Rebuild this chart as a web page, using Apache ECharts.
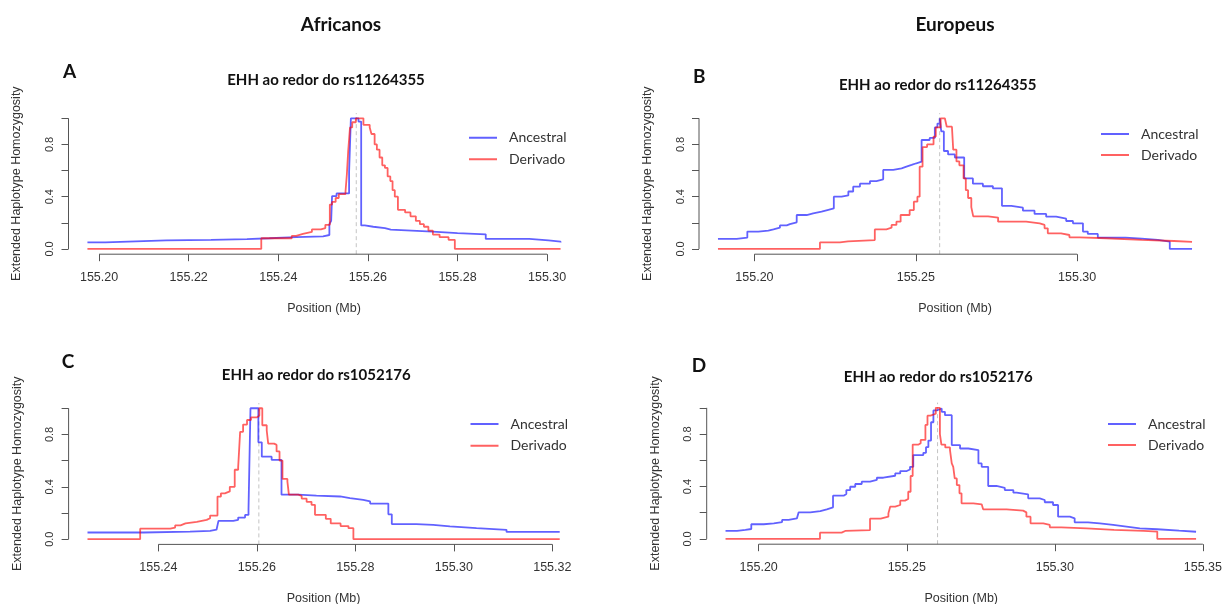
<!DOCTYPE html>
<html>
<head>
<meta charset="utf-8">
<script src="https://cdn.jsdelivr.net/npm/echarts@6/dist/echarts.min.js"></script>
<style>
  html, body { margin: 0; padding: 0; background: #fff; }
  #chart { width: 1225px; height: 604px; }
</style>
</head>
<body>
<div id="chart"></div>
<script>
// EHH decay around two core SNPs (positions in Mb), step functions [position, EHH]

// core SNP positions
const coreRs11264355 = 155.2574;
const coreRs1052176 = 155.2604;

// A: Africanos, rs11264355
const ancestralA = [
  [155.1974, 0.051], [155.2014, 0.066], [155.2150, 0.070], [155.2250, 0.076], [155.2330, 0.082],
  [155.2380, 0.090], [155.2440, 0.097], [155.2500, 0.107], [155.2514, 0.19], [155.2518, 0.215],
  [155.2520, 0.405], [155.2530, 0.425], [155.2558, 0.59], [155.2562, 1.0], [155.2579, 0.975],
  [155.2585, 0.18], [155.2593, 0.17], [155.2612, 0.16], [155.2638, 0.148], [155.2651, 0.133],
  [155.2744, 0.122], [155.2800, 0.112], [155.2863, 0.077], [155.2960, 0.066], [155.3003, 0.056],
  [155.3030, 0.05]
];
const derivadoA = [
  [155.1974, 0.0], [155.2362, 0.082], [155.2430, 0.10], [155.2440, 0.115], [155.2455, 0.13],
  [155.2475, 0.15], [155.2495, 0.16], [155.2505, 0.185], [155.2515, 0.34], [155.2520, 0.36],
  [155.2528, 0.39], [155.2535, 0.42], [155.2550, 0.44], [155.2553, 0.57], [155.2556, 0.75],
  [155.2560, 0.93], [155.2565, 0.97], [155.2573, 1.0], [155.2590, 0.95], [155.2604, 0.93],
  [155.2608, 0.88], [155.2615, 0.80], [155.2620, 0.76], [155.2626, 0.70], [155.2632, 0.64],
  [155.2638, 0.62], [155.2644, 0.555], [155.2650, 0.52], [155.2655, 0.45], [155.2660, 0.40],
  [155.2667, 0.30], [155.2683, 0.28], [155.2695, 0.25], [155.2707, 0.215], [155.2716, 0.19],
  [155.2725, 0.17], [155.2735, 0.14], [155.2745, 0.11], [155.2760, 0.09], [155.2780, 0.07],
  [155.2794, 0.0], [155.3030, 0.0]
];

// B: Europeus, rs11264355
const ancestralB = [
  [155.1887, 0.077], [155.1945, 0.087], [155.1978, 0.133], [155.2012, 0.14], [155.2043, 0.15],
  [155.2059, 0.163], [155.2079, 0.18], [155.2100, 0.19], [155.2110, 0.204], [155.2131, 0.26],
  [155.2162, 0.273], [155.2182, 0.286], [155.2208, 0.30], [155.2229, 0.31], [155.2246, 0.40],
  [155.2270, 0.41], [155.2291, 0.44], [155.2306, 0.477], [155.2327, 0.50], [155.2358, 0.52],
  [155.2378, 0.533], [155.2399, 0.605], [155.2430, 0.617], [155.2456, 0.63], [155.2471, 0.643],
  [155.2487, 0.656], [155.2502, 0.668], [155.2518, 0.834], [155.2543, 0.85], [155.2559, 0.93],
  [155.2567, 0.96], [155.2574, 1.0], [155.2579, 0.90], [155.2587, 0.75], [155.2600, 0.724],
  [155.2621, 0.70], [155.2650, 0.54], [155.2677, 0.50], [155.2708, 0.48], [155.2739, 0.464],
  [155.2767, 0.33], [155.2796, 0.316], [155.2832, 0.293], [155.2868, 0.268], [155.2904, 0.247],
  [155.2935, 0.232], [155.2966, 0.214], [155.2987, 0.196], [155.3018, 0.133], [155.3033, 0.115],
  [155.3064, 0.087], [155.3150, 0.079], [155.3200, 0.069], [155.3250, 0.056], [155.3287, 0.0],
  [155.3356, 0.0]
];
const derivadoB = [
  [155.1887, 0.0], [155.2203, 0.05], [155.2265, 0.058], [155.2290, 0.068], [155.2373, 0.15],
  [155.2409, 0.163], [155.2425, 0.184], [155.2440, 0.209], [155.2453, 0.26], [155.2481, 0.298],
  [155.2494, 0.362], [155.2505, 0.40], [155.2512, 0.63], [155.2521, 0.78], [155.2535, 0.80],
  [155.2555, 0.86], [155.2562, 0.93], [155.2577, 1.0], [155.2590, 0.99], [155.2596, 0.936],
  [155.2612, 0.93], [155.2616, 0.76], [155.2626, 0.67], [155.2635, 0.64], [155.2648, 0.54],
  [155.2655, 0.45], [155.2662, 0.39], [155.2672, 0.32], [155.2678, 0.25], [155.2724, 0.24],
  [155.2755, 0.209], [155.2842, 0.196], [155.2884, 0.184], [155.2899, 0.158], [155.2909, 0.12],
  [155.2950, 0.107], [155.2976, 0.089], [155.3007, 0.082], [155.3090, 0.069], [155.3200, 0.061],
  [155.3300, 0.055], [155.3356, 0.05]
];

// C: Africanos, rs1052176
const ancestralC = [
  [155.2256, 0.051], [155.2370, 0.058], [155.2464, 0.064], [155.2505, 0.072], [155.2518, 0.08],
  [155.2522, 0.14], [155.2552, 0.148], [155.2562, 0.165], [155.2576, 0.185], [155.2583, 0.23],
  [155.2587, 1.0], [155.2603, 0.74], [155.2610, 0.63], [155.2630, 0.605], [155.2650, 0.34],
  [155.2684, 0.333], [155.2721, 0.326], [155.2769, 0.313], [155.2789, 0.30], [155.2816, 0.288],
  [155.2830, 0.272], [155.2867, 0.19], [155.2874, 0.115], [155.2924, 0.109], [155.2958, 0.097],
  [155.2992, 0.084], [155.3046, 0.071], [155.3107, 0.055], [155.3215, 0.05]
];
const derivadoC = [
  [155.2256, 0.0], [155.2363, 0.08], [155.2424, 0.089], [155.2434, 0.105], [155.2445, 0.12],
  [155.2455, 0.132], [155.2478, 0.147], [155.2498, 0.16], [155.2505, 0.18], [155.2520, 0.325],
  [155.2527, 0.35], [155.2535, 0.365], [155.2545, 0.40], [155.2555, 0.53], [155.2562, 0.55],
  [155.2566, 0.82], [155.2572, 0.875], [155.2580, 0.91], [155.2588, 0.93], [155.2600, 0.945],
  [155.2605, 1.0], [155.2611, 0.87], [155.2620, 0.83], [155.2623, 0.73], [155.2635, 0.72],
  [155.2640, 0.67], [155.2646, 0.60], [155.2652, 0.46], [155.2662, 0.44], [155.2665, 0.34],
  [155.2684, 0.33], [155.2691, 0.31], [155.2701, 0.285], [155.2711, 0.262], [155.2718, 0.186],
  [155.2740, 0.155], [155.2750, 0.12], [155.2770, 0.10], [155.2786, 0.084], [155.2796, 0.0],
  [155.3215, 0.0]
];

// D: Europeus, rs1052176
const ancestralD = [
  [155.1888, 0.061], [155.1927, 0.069], [155.1955, 0.076], [155.1975, 0.112], [155.2017, 0.119],
  [155.2051, 0.129], [155.2079, 0.145], [155.2101, 0.157], [155.2129, 0.17], [155.2135, 0.203],
  [155.2174, 0.213], [155.2208, 0.226], [155.2230, 0.241], [155.2251, 0.33], [155.2287, 0.343],
  [155.2296, 0.373], [155.2309, 0.398], [155.2326, 0.419], [155.2348, 0.437], [155.2376, 0.45],
  [155.2399, 0.467], [155.2421, 0.482], [155.2461, 0.50], [155.2478, 0.518], [155.2500, 0.53],
  [155.2511, 0.55], [155.2522, 0.64], [155.2556, 0.657], [155.2565, 0.70], [155.2573, 0.75],
  [155.2582, 0.89], [155.2590, 0.98], [155.2601, 0.995], [155.2618, 0.97], [155.2629, 0.944],
  [155.2652, 0.716], [155.2680, 0.69], [155.2708, 0.678], [155.2742, 0.576], [155.2753, 0.55],
  [155.2775, 0.404], [155.2803, 0.39], [155.2831, 0.373], [155.2860, 0.353], [155.2871, 0.34],
  [155.2910, 0.31], [155.2949, 0.297], [155.2966, 0.28], [155.2994, 0.259], [155.3011, 0.17],
  [155.3051, 0.157], [155.3067, 0.127], [155.3112, 0.119], [155.3152, 0.107], [155.3197, 0.094],
  [155.3242, 0.081], [155.3287, 0.074], [155.3346, 0.063], [155.3420, 0.055], [155.3477, 0.05]
];
const derivadoD = [
  [155.1888, 0.0], [155.2207, 0.048], [155.2280, 0.061], [155.2292, 0.068], [155.2376, 0.155],
  [155.2412, 0.17], [155.2438, 0.195], [155.2444, 0.246], [155.2461, 0.259], [155.2478, 0.292],
  [155.2494, 0.305], [155.2505, 0.36], [155.2513, 0.48], [155.2520, 0.72], [155.2540, 0.73],
  [155.2547, 0.755], [155.2563, 0.87], [155.2570, 0.94], [155.2580, 0.955], [155.2598, 1.0],
  [155.2612, 0.80], [155.2617, 0.72], [155.2630, 0.698], [155.2646, 0.678], [155.2652, 0.576],
  [155.2657, 0.55], [155.2662, 0.462], [155.2669, 0.411], [155.2678, 0.348], [155.2685, 0.272],
  [155.2725, 0.264], [155.2753, 0.259], [155.2758, 0.226], [155.2837, 0.216], [155.2893, 0.203],
  [155.2904, 0.17], [155.2918, 0.119], [155.2961, 0.107], [155.2983, 0.089], [155.3022, 0.081],
  [155.3107, 0.069], [155.3200, 0.062], [155.3300, 0.056], [155.3346, 0.0], [155.3477, 0.0]
];

// tick values
const xTicksA = [155.20, 155.22, 155.24, 155.26, 155.28, 155.30];
const xTicksB = [155.20, 155.25, 155.30];
const xTicksC = [155.24, 155.26, 155.28, 155.30, 155.32];
const xTicksD = [155.20, 155.25, 155.30, 155.35];
const yTicks = [0, 0.2, 0.4, 0.6, 0.8, 1.0];
const yTickLabels = [0, 0.4, 0.8];

// text
const seriesNames = ['Ancestral', 'Derivado'];
const columnHeaders = ['Africanos', 'Europeus'];
const panelLetters = ['A', 'B', 'C', 'D'];
const panelTitles = ['EHH ao redor do rs11264355', 'EHH ao redor do rs11264355',
                     'EHH ao redor do rs1052176', 'EHH ao redor do rs1052176'];
const xName = 'Position (Mb)';
const yName = 'Extended Haplotype Homozygosity';

// ---------- layout & style ----------
const BLUE = 'rgba(0,0,255,0.62)';
const RED = 'rgba(255,0,0,0.62)';
const AXIS = '#555';
const TXT = '#333';
const SANS = 'Liberation Sans';
const HUM = 'Lato';
const Y_LO = -0.04, Y_HI = 1.04;

const panels = [
  { anc: ancestralA, der: derivadoA, core: coreRs11264355, xTicks: xTicksA,
    box: { left: 68.5, top: 113.1, width: 511, height: 141.1 },
    leg: { left: 469, top: 129.7, gap: 5.6 },
    letter: [63, 72], title: [326, 80] },
  { anc: ancestralB, der: derivadoB, core: coreRs11264355, xTicks: xTicksB,
    box: { left: 699, top: 113.1, width: 512, height: 141.1 },
    leg: { left: 1101, top: 126, gap: 5 },
    letter: [693, 76.5], title: [937.7, 85] },
  { anc: ancestralC, der: derivadoC, core: coreRs1052176, xTicks: xTicksC,
    box: { left: 68.6, top: 403, width: 510, height: 141.4 },
    leg: { left: 470.5, top: 416, gap: 5.7 },
    letter: [61.7, 361.7], title: [316.3, 375.5] },
  { anc: ancestralD, der: derivadoD, core: coreRs1052176, xTicks: xTicksD,
    box: { left: 706.7, top: 402.6, width: 509, height: 141.6 },
    leg: { left: 1108, top: 416, gap: 5 },
    letter: [691.7, 366], title: [938.3, 377] }
];
const headerPos = [[341, 25], [955, 25]];

const option = {
  animation: false,
  backgroundColor: '#fff',
  grid: [], xAxis: [], yAxis: [], series: [], legend: [], graphic: []
};

panels.forEach((p, i) => {
  // x range padded by 4% of the data span on each side
  const xs = p.anc.concat(p.der).map(d => d[0]);
  const lo = Math.min(...xs), hi = Math.max(...xs);
  const pad = 0.04 * (hi - lo);
  const xMin = lo - pad, xMax = hi + pad;

  option.grid.push(Object.assign({ containLabel: false }, p.box));

  option.xAxis.push({
    type: 'value', gridIndex: i, min: xMin, max: xMax,
    axisLine: { show: false, onZero: false },
    splitLine: { show: false },
    axisTick: { show: true, customValues: p.xTicks, length: 7, lineStyle: { color: AXIS, width: 1 } },
    axisLabel: { customValues: p.xTicks, formatter: v => v.toFixed(2), margin: 17,
                 color: TXT, fontFamily: SANS, fontSize: 12.5 }
  });
  option.yAxis.push({
    type: 'value', gridIndex: i, min: Y_LO, max: Y_HI,
    axisLine: { show: false, onZero: false },
    splitLine: { show: false },
    axisTick: { show: true, customValues: yTicks, length: 7, lineStyle: { color: AXIS, width: 1 } },
    axisLabel: { customValues: yTickLabels, rotate: 90, formatter: v => v.toFixed(1), margin: 13,
                 color: TXT, fontFamily: SANS, fontSize: 11 }
  });

  const common = { type: 'line', xAxisIndex: i, yAxisIndex: i, symbol: 'none', silent: true };

  // dashed vertical line at the core SNP
  option.series.push(Object.assign({}, common, {
    z: 1, clip: false,
    data: [[p.core, Y_LO], [p.core, Y_HI]],
    lineStyle: { color: '#c4c4c4', type: [4, 3], width: 1 }
  }));
  // axis lines spanning first to last tick
  option.series.push(Object.assign({}, common, {
    z: 1, clip: false,
    data: [[p.xTicks[0], Y_LO], [p.xTicks[p.xTicks.length - 1], Y_LO]],
    lineStyle: { color: AXIS, width: 1 }
  }));
  option.series.push(Object.assign({}, common, {
    z: 1, clip: false,
    data: [[xMin, yTicks[0]], [xMin, yTicks[yTicks.length - 1]]],
    lineStyle: { color: AXIS, width: 1 }
  }));

  option.series.push(Object.assign({}, common, {
    name: seriesNames[0], data: p.anc, step: 'end', z: 3,
    lineStyle: { color: BLUE, width: 1.8 }, itemStyle: { color: BLUE }
  }));
  option.series.push(Object.assign({}, common, {
    name: seriesNames[1], data: p.der, step: 'end', z: 4,
    lineStyle: { color: RED, width: 1.8 }, itemStyle: { color: RED }
  }));

  option.legend.push({
    data: seriesNames, orient: 'vertical', left: p.leg.left, top: p.leg.top,
    itemGap: p.leg.gap, itemWidth: 35, itemHeight: 2, padding: 0, selectedMode: false,
    icon: 'path://M0,0H28V2H0Z M34.9,1L35,1',
    textStyle: { fontFamily: HUM, fontSize: 14, color: TXT, lineHeight: 16 }
  });

  const b = p.box;
  option.graphic.push(
    { type: 'text', x: p.letter[0], y: p.letter[1], silent: true,
      style: { text: panelLetters[i], align: 'left', verticalAlign: 'middle',
               fontFamily: HUM, fontWeight: 'bold', fontSize: 19, fill: '#111' } },
    { type: 'text', x: p.title[0], y: p.title[1], silent: true,
      style: { text: panelTitles[i], align: 'center', verticalAlign: 'middle',
               fontFamily: HUM, fontWeight: 'bold', fontSize: 15, fill: '#111' } },
    { type: 'text', x: b.left + b.width / 2, y: b.top + b.height + 54, silent: true,
      style: { text: xName, align: 'center', verticalAlign: 'middle',
               fontFamily: SANS, fontSize: 12.5, fill: TXT } },
    { type: 'text', x: b.left - 51.5, y: b.top + b.height / 2, rotation: Math.PI / 2, silent: true,
      style: { text: yName, align: 'center', verticalAlign: 'middle',
               fontFamily: SANS, fontSize: 12.5, fill: TXT } }
  );
});

columnHeaders.forEach((h, k) => {
  option.graphic.push({
    type: 'text', x: headerPos[k][0], y: headerPos[k][1], silent: true,
    style: { text: h, align: 'center', verticalAlign: 'middle',
             fontFamily: HUM, fontWeight: 'bold', fontSize: 19, fill: '#111' }
  });
});

const chart = echarts.init(document.getElementById('chart'));
chart.setOption(option);
</script>
</body>
</html>
